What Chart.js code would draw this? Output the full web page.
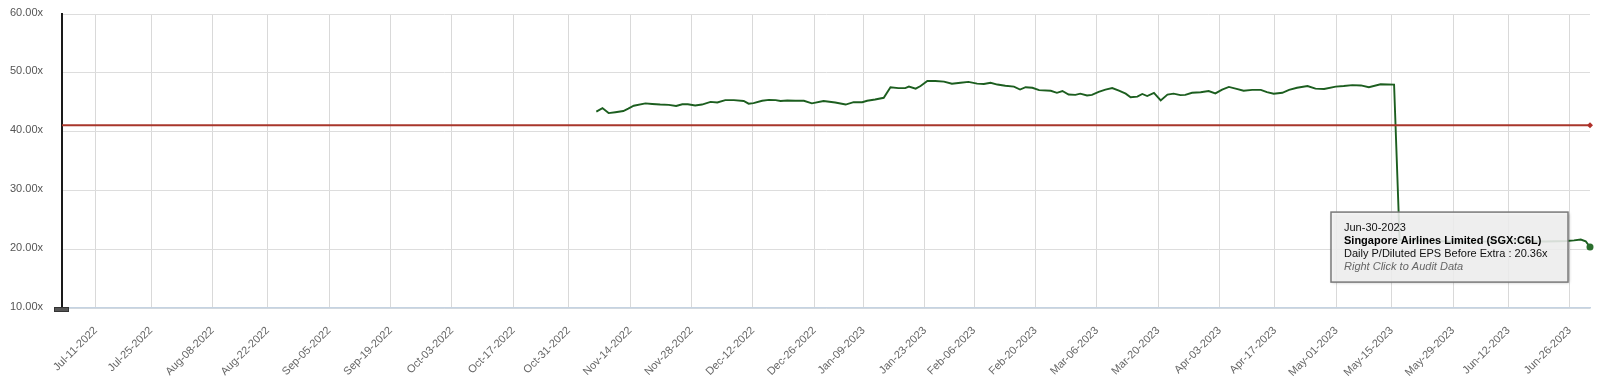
<!DOCTYPE html>
<html>
<head>
<meta charset="utf-8">
<script src="https://cdn.jsdelivr.net/npm/chart.js@4.4.1/dist/chart.umd.min.js"></script>
<style>
    html, body { margin: 0; padding: 0; background: #ffffff; }
    #wrap { width: 1600px; height: 388px; }
</style>
</head>
<body>
<div id="wrap"><canvas id="peChart" width="1600" height="388"></canvas></div>
<script>
// x = trading-day index, 0 = Jul-11-2022
const tickDays = [0, 9, 19, 28, 38, 48, 58, 68, 77, 87, 97, 107, 117, 125, 135, 143, 153, 163, 173, 183, 192, 202, 211, 221, 230, 240];
const tickLabels = ['Jul-11-2022', 'Jul-25-2022', 'Aug-08-2022', 'Aug-22-2022', 'Sep-05-2022', 'Sep-19-2022',
    'Oct-03-2022', 'Oct-17-2022', 'Oct-31-2022', 'Nov-14-2022', 'Nov-28-2022', 'Dec-12-2022', 'Dec-26-2022',
    'Jan-09-2023', 'Jan-23-2023', 'Feb-06-2023', 'Feb-20-2023', 'Mar-06-2023', 'Mar-20-2023', 'Apr-03-2023',
    'Apr-17-2023', 'May-01-2023', 'May-15-2023', 'May-29-2023', 'Jun-12-2023', 'Jun-26-2023'];

// Daily P/Diluted EPS Before Extra
const peDays = [81.5, 82.5, 83.5, 84.6, 85.9, 86.7, 87.6, 89.5, 90.6, 91.9, 93.3, 94.5, 95.5, 96.4, 97.6, 98.7,
    100.1, 101.2, 102.5, 103.9, 105.5, 106.3, 107.1, 108.5, 109.6, 110.7, 111.5, 112.6, 113.9, 115.3, 116.6,
    118.5, 120.4, 122.1, 123.4, 124.8, 125.6, 126.9, 128.3, 129.4, 130.7, 131.8, 132.4, 133.5, 134.3, 135.4,
    136.7, 138.1, 139.4, 140.8, 142.1, 143.5, 144.6, 145.7, 146.8, 148.1, 149.5, 150.5, 151.4, 152.5, 153.6,
    155.5, 156.5, 157.4, 158.4, 159.5, 160.3, 161.4, 162.2, 163.3, 164.4, 165.5, 166.6, 167.7, 168.5, 169.6,
    170.4, 171.2, 172.3, 173.4, 174.5, 175.5, 176.6, 177.4, 178.5, 179.9, 181.2, 182.3, 183.4, 184.5, 185.6,
    186.9, 188.3, 189.7, 190.7, 191.8, 193.2, 194.3, 195.6, 197.3, 198.6, 200.0, 201.9, 203.2, 204.6, 206.0,
    207.3, 209.2, 211.4, 212.3, 213, 218, 224, 230, 236, 239.5, 240.7, 241.8, 242.6, 243.3];
const peValues = [43.4, 44.0, 43.15, 43.3, 43.5, 43.9, 44.4, 44.8, 44.7, 44.6, 44.55, 44.35, 44.65, 44.65, 44.45, 44.6,
    45.05, 44.95, 45.35, 45.35, 45.2, 44.75, 44.85, 45.25, 45.4, 45.35, 45.2, 45.3, 45.25, 45.25, 44.8,
    45.2, 44.95, 44.6, 45.0, 45.0, 45.25, 45.45, 45.75, 47.55, 47.4, 47.4, 47.65, 47.3, 47.75, 48.6,
    48.6, 48.5, 48.15, 48.3, 48.45, 48.15, 48.1, 48.3, 48.0, 47.8, 47.65, 47.15, 47.55, 47.45, 47.05,
    46.95, 46.6, 46.9, 46.3, 46.25, 46.45, 46.15, 46.25, 46.75, 47.15, 47.4, 46.95, 46.45, 45.85, 45.95,
    46.4, 46.05, 46.6, 45.3, 46.3, 46.45, 46.2, 46.25, 46.6, 46.7, 46.9, 46.5, 47.15, 47.6, 47.3,
    46.95, 47.1, 47.1, 46.7, 46.45, 46.6, 47.1, 47.45, 47.75, 47.3, 47.25, 47.65, 47.75, 47.9, 47.85,
    47.55, 48.05, 48.0, 21.6, 21.5, 21.4, 21.2, 21.5, 21.3, 21.4, 21.5, 21.65, 21.35, 20.36];

// reference (average) line
const avgDays = [-5.5, 243.3];
const avgValues = [41.08, 41.08];

const yTicks = [10, 20, 30, 40, 50, 60];
const FONT = '"Liberation Sans", Arial, sans-serif';

function toPoints(xs, ys) {
    return xs.map((x, i) => ({ x: x, y: ys[i] }));
}

// tooltip fixo + puxador no canto inferior esquerdo
const overlayPlugin = {
    id: 'overlay',
    afterDraw(chart) {
        const ctx = chart.ctx;
        const area = chart.chartArea;

        // puxador
        ctx.save();
        ctx.fillStyle = '#555555';
        ctx.strokeStyle = '#333333';
        ctx.lineWidth = 1;
        ctx.fillRect(area.left - 8, area.bottom - 1, 15, 5);
        ctx.strokeRect(area.left - 7.5, area.bottom - 0.5, 14, 4);
        ctx.restore();

        // tooltip do último ponto
        const meta = chart.getDatasetMeta(1);
        const last = meta.data[meta.data.length - 1];
        const lastValue = peValues[peValues.length - 1];
        const w = 237, h = 70;
        const bx = last.x - 22 - w;
        const by = last.y - 35;

        ctx.save();
        ctx.shadowColor = 'rgba(0,0,0,0.35)';
        ctx.shadowOffsetX = 1;
        ctx.shadowOffsetY = 1;
        ctx.shadowBlur = 3;
        ctx.fillStyle = 'rgba(247,247,247,0.86)';
        ctx.fillRect(bx, by, w, h);
        ctx.restore();

        ctx.save();
        ctx.strokeStyle = '#7a7a7a';
        ctx.lineWidth = 1.5;
        ctx.strokeRect(bx, by, w, h);

        const lines = [
            { text: 'Jun-30-2023', font: '11px ' + FONT, color: '#111111' },
            { text: 'Singapore Airlines Limited (SGX:C6L)', font: 'bold 11px ' + FONT, color: '#000000' },
            { text: 'Daily P/Diluted EPS Before Extra : ' + lastValue.toFixed(2) + 'x', font: '11px ' + FONT, color: '#111111' },
            { text: 'Right Click to Audit Data', font: 'italic 11px ' + FONT, color: '#666666' }
        ];
        ctx.textAlign = 'left';
        ctx.textBaseline = 'middle';
        lines.forEach((ln, i) => {
            ctx.font = ln.font;
            ctx.fillStyle = ln.color;
            ctx.fillText(ln.text, bx + 13, by + 15.5 + i * 13.2);
        });
        ctx.restore();
    }
};

const ctx = document.getElementById('peChart').getContext('2d');

new Chart(ctx, {
    type: 'line',
    data: {
        datasets: [
            {
                label: 'Average',
                data: toPoints(avgDays, avgValues),
                borderColor: '#a8362b',
                borderWidth: 2,
                pointRadius: [0, 3],
                pointStyle: 'rectRot',
                pointBackgroundColor: '#b0302a',
                pointBorderColor: '#b0302a',
                pointBorderWidth: 0,
                tension: 0,
                clip: false
            },
            {
                label: 'Singapore Airlines Limited (SGX:C6L)',
                data: toPoints(peDays, peValues),
                borderColor: '#1c5e1f',
                borderWidth: 1.9,
                pointRadius: peValues.map((v, i) => i === peValues.length - 1 ? 3.5 : 0),
                pointBackgroundColor: '#2b6e2d',
                pointBorderColor: '#2b6e2d',
                pointBorderWidth: 0,
                tension: 0,
                clip: false
            }
        ]
    },
    options: {
        responsive: false,
        animation: false,
        devicePixelRatio: 1,
        layout: {
            padding: { top: 14, right: 10, left: 0, bottom: 0 }
        },
        plugins: {
            legend: { display: false },
            tooltip: { enabled: false }
        },
        scales: {
            x: {
                type: 'linear',
                min: -5.5,
                max: 243.3,
                afterBuildTicks: (scale) => {
                    scale.ticks = tickDays.map(v => ({ value: v }));
                },
                afterFit: (scale) => {
                    scale.height = 80;
                    scale.paddingLeft = 0;
                    scale.paddingRight = 0;
                },
                ticks: {
                    autoSkip: false,
                    maxRotation: 45,
                    minRotation: 45,
                    padding: 16,
                    color: '#666666',
                    font: { family: FONT, size: 11 },
                    callback: (value) => tickLabels[tickDays.indexOf(value)]
                },
                grid: {
                    color: '#d9d9d9',
                    lineWidth: 1,
                    drawTicks: false
                },
                border: {
                    display: true,
                    color: '#c5d3e2',
                    width: 1.5
                }
            },
            y: {
                min: 10,
                max: 60,
                afterBuildTicks: (scale) => {
                    scale.ticks = yTicks.map(v => ({ value: v }));
                },
                afterFit: (scale) => {
                    scale.width = 62;
                    // o padding dos rótulos não deve empurrar a área do gráfico
                    scale.paddingTop = 0;
                    scale.paddingBottom = 0;
                },
                ticks: {
                    padding: 19,
                    labelOffset: -1.5,
                    color: '#555555',
                    font: { family: FONT, size: 11 },
                    callback: (value) => value.toFixed(2) + 'x'
                },
                grid: {
                    color: '#dddddd',
                    lineWidth: 1,
                    drawTicks: false
                },
                border: {
                    display: true,
                    color: '#1a1a1a',
                    width: 2
                }
            }
        }
    },
    plugins: [overlayPlugin]
});
</script>
</body>
</html>
